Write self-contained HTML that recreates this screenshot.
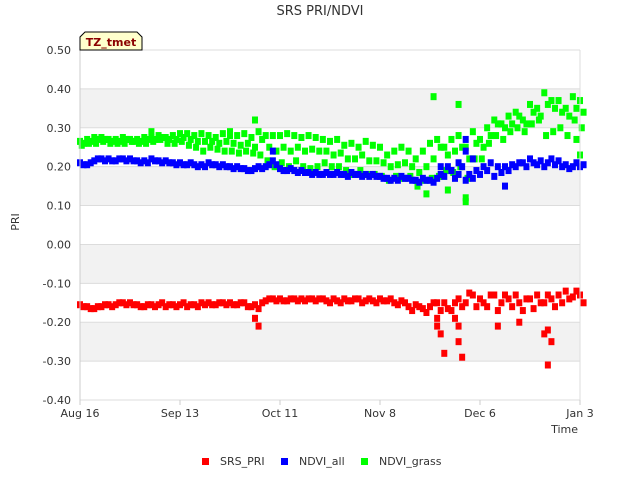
<!DOCTYPE html>
<html><head><meta charset="utf-8"><style>
body{margin:0;background:#fff;font-family:"Liberation Sans","DejaVu Sans",sans-serif;}
svg text{font-family:"DejaVu Sans","Liberation Sans",sans-serif;}
</style></head><body>
<svg id="chart" width="640" height="480" xmlns="http://www.w3.org/2000/svg">
<rect width="640" height="480" fill="#fff"/>
<text x="320" y="15" text-anchor="middle" font-size="13" fill="#333">SRS PRI/NDVI</text>
<g id="bands"></g><g id="grid"></g><g id="marks"></g><g id="axes"></g>
<text x="19" y="222" font-size="11" fill="#333" text-anchor="middle" transform="rotate(-90 19 222)">PRI</text>
<text x="578" y="433" font-size="11" fill="#333" text-anchor="end">Time</text>
<g>
<path d="M80,50 L80,37 L85,32 L137,32 L142,37 L142,50 Z" fill="#ffffcc" stroke="#000" stroke-width="1"/>
<text x="111" y="46" text-anchor="middle" font-size="11" font-weight="bold" fill="#8b0000">TZ_tmet</text>
</g>
<g font-size="11" fill="#333">
<g><rect x="202" y="458" width="7" height="7" fill="#ff0000"/><text x="220" y="465">SRS_PRI</text></g>
<g><rect x="281" y="458" width="7" height="7" fill="#0000ff"/><text x="299" y="465">NDVI_all</text></g>
<g><rect x="361" y="458" width="7" height="7" fill="#00ff00"/><text x="379" y="465">NDVI_grass</text></g>
</g>
</svg>
<script>
const xTickLabels=["Aug 16","Sep 13","Oct 11","Nov 8","Dec 6","Jan 3"];
const xTickDays=[0,28,56,84,112,140];
const yTicks=[0.5,0.4,0.3,0.2,0.1,0,-0.1,-0.2,-0.3,-0.4];
const yTickLabels=["0.50","0.40","0.30","0.20","0.10","0.00","-0.10","-0.20","-0.30","-0.40"];
const priVals=[-0.155,-0.16,-0.165,-0.16,-0.155,-0.155,-0.15,-0.15,-0.155,-0.16,-0.155,-0.155,-0.16,
-0.155,-0.155,-0.16,-0.155,-0.15,-0.15,-0.155,-0.15,-0.15,-0.155,-0.15,-0.16,-0.165,
-0.145,-0.14,-0.14,-0.145,-0.14,-0.14,-0.14,-0.145,-0.14,-0.15,-0.145,-0.14,-0.145,-0.14,-0.145,
-0.145,-0.14,-0.145,-0.15,-0.145,-0.16,-0.155,-0.165,-0.16,-0.15,
-0.15,-0.17,-0.14,-0.15,-0.13,-0.14,-0.16,-0.13,-0.15,-0.14,
-0.13,-0.17,-0.14,-0.13,-0.15,-0.14,-0.13,-0.12,-0.135,-0.13];
const priVals2=[-0.16,-0.165,-0.16,-0.155,-0.16,-0.15,-0.155,-0.155,-0.16,-0.155,-0.16,-0.15,-0.155,
-0.16,-0.15,-0.155,-0.16,-0.155,-0.155,-0.15,-0.155,-0.155,-0.15,-0.16,-0.155,-0.15,
-0.14,-0.145,-0.145,-0.14,-0.145,-0.145,-0.14,-0.14,-0.145,-0.14,-0.15,-0.145,-0.14,-0.15,-0.14,
-0.15,-0.145,-0.14,-0.155,-0.15,-0.17,-0.16,-0.175,-0.15,-0.17,
-0.165,-0.15,-0.16,-0.125,-0.16,-0.15,-0.13,-0.17,-0.13,-0.16,
-0.15,-0.14,-0.165,-0.15,-0.13,-0.16,-0.15,-0.14,-0.12,-0.15];
const priOutDays=[49,50,100,101,102,100,106,106,107,105,117,123,130,131,132,131];
const priOutVals=[-0.19,-0.21,-0.21,-0.23,-0.28,-0.19,-0.21,-0.25,-0.29,-0.19,-0.21,-0.2,-0.23,-0.31,-0.25,-0.22];
const ndviVals=[0.21,0.205,0.215,0.22,0.22,0.215,0.22,0.22,0.215,0.215,0.22,0.215,0.215,
0.21,0.21,0.205,0.205,0.205,0.21,0.205,0.205,0.2,0.2,0.195,0.19,0.2,0.2,0.215,
0.195,0.19,0.19,0.19,0.185,0.185,0.18,0.18,0.185,0.18,0.185,0.18,0.18,0.18,0.175,
0.17,0.17,0.175,0.17,0.165,0.17,0.165,0.17,0.175,0.19,0.18,0.165,0.17,
0.18,0.19,0.175,0.185,0.19,0.2,0.21,0.22,0.205,0.2,0.22,0.215,0.205,0.2,0.2];
const ndviVals2=[0.205,0.21,0.22,0.215,0.215,0.22,0.215,0.215,0.21,0.21,0.215,0.21,0.21,
0.205,0.205,0.21,0.2,0.2,0.205,0.2,0.2,0.195,0.195,0.19,0.195,0.195,0.205,0.205,
0.19,0.195,0.185,0.185,0.18,0.18,0.185,0.18,0.18,0.175,0.18,0.175,0.175,0.175,0.17,
0.165,0.165,0.17,0.165,0.16,0.165,0.16,0.18,0.2,0.17,0.2,0.18,0.19,
0.2,0.21,0.2,0.2,0.205,0.21,0.2,0.21,0.215,0.21,0.205,0.2,0.195,0.21,0.205];
const ndviOutDays=[54,101,106,108,108,110,104,119];
const ndviOutVals=[0.24,0.2,0.21,0.27,0.24,0.22,0.19,0.15];
const grassHigh=[0.265,0.27,0.275,0.275,0.27,0.27,0.275,0.27,0.27,0.275,0.275,0.28,0.275,
0.28,0.285,0.285,0.28,0.285,0.28,0.275,0.285,0.28,0.28,0.285,0.275,0.29,0.28,0.28,
0.28,0.285,0.28,0.275,0.28,0.275,0.27,0.265,0.27,0.255,0.26,0.25,0.265,0.255,0.25,
0.23,0.24,0.25,0.24,0.22,0.24,0.26,0.27,0.25,0.27,0.28,0.25,0.29,
0.27,0.3,0.32,0.31,0.33,0.34,0.32,0.36,0.35,0.39,0.37,0.37,0.35,0.38,0.37];
const grassMid=[0.26,0.265,0.27,0.27,0.265,0.265,0.27,0.265,0.265,0.27,0.27,0.275,0.27,
0.27,0.275,0.27,0.265,0.265,0.265,0.26,0.265,0.26,0.255,0.26,0.25,0.27,0.25,0.24,
0.25,0.24,0.25,0.24,0.245,0.24,0.24,0.23,0.235,0.22,0.22,0.23,0.215,0.215,0.21,
0.2,0.205,0.21,0.2,0.185,0.2,0.22,0.25,0.23,0.24,0.25,0.22,0.26,
0.25,0.28,0.31,0.3,0.31,0.33,0.31,0.34,0.33,0.36,0.35,0.34,0.33,0.35,0.34];
const grassLow=[0.255,0.26,0.26,0.265,0.26,0.26,0.26,0.265,0.26,0.26,0.265,0.27,0.26,
0.26,0.265,0.255,0.25,0.24,0.25,0.245,0.24,0.24,0.235,0.24,0.235,0.23,0.215,0.2,
0.21,0.2,0.215,0.2,0.195,0.2,0.21,0.2,0.2,0.19,0.18,0.19,0.18,0.18,0.175,
0.165,0.175,0.17,0.175,0.15,0.165,0.17,0.175,0.19,0.185,0.2,0.17,0.22,
0.22,0.26,0.28,0.27,0.29,0.3,0.29,0.31,0.32,0.28,0.29,0.3,0.28,0.32,0.3];
const grassOutDays=[20,42,49,99,106,108,108,97,103,140,139];
const grassOutVals=[0.29,0.29,0.32,0.38,0.36,0.11,0.12,0.13,0.14,0.23,0.27];

const NS="http://www.w3.org/2000/svg";
const L=80,R=580,T=50,B=400,DMAX=140;
const xs=d=>L+(d/DMAX)*(R-L);
const ys=v=>T+(0.5-v)/0.9*(B-T);
function mk(tag,attrs,parent){const e=document.createElementNS(NS,tag);for(const k in attrs)e.setAttribute(k,attrs[k]);parent.appendChild(e);return e;}
const bands=document.getElementById('bands'),grid=document.getElementById('grid'),marks=document.getElementById('marks'),axes=document.getElementById('axes');
[[0.4,0.3],[0.2,0.1],[0,-0.1],[-0.2,-0.3]].forEach(b=>{
const r=mk('rect',{x:L,y:ys(b[0]),width:R-L,height:ys(b[1])-ys(b[0]),fill:'#f2f2f2'},bands);


});
yTicks.forEach((v,i)=>{
const ln=mk('line',{x1:L,x2:R,y1:ys(v),y2:ys(v),stroke:'#dcdcdc','stroke-width':1},grid);


const t=mk('text',{x:71,y:ys(v)+4,'text-anchor':'end','font-size':11,fill:'#333'},axes);
t.textContent=yTickLabels[i];


});
const ax=mk('line',{x1:L,x2:L,y1:T,y2:B,stroke:'#ccc'},axes);


const rx=mk('line',{x1:R,x2:R,y1:T,y2:B,stroke:'#ddd'},axes);


xTickDays.forEach((d,i)=>{
const tk=mk('line',{x1:xs(d),x2:xs(d),y1:B,y2:B+5,stroke:'#ccc'},axes);


const t=mk('text',{x:xs(d),y:B+17,'text-anchor':'middle','font-size':11,fill:'#333'},axes);
t.textContent=xTickLabels[i];


});
function pt(d,v,c,name){
const r=mk('rect',{x:xs(d)-3,y:ys(v)-3.5,width:6,height:7,fill:c},marks);


}
function series(vals,c,name,off){vals.forEach((v,i)=>pt(i*2+off,v,c,name));}
series(grassHigh,'#00ff00','ndvi-grass-point',0);
series(grassMid,'#00ff00','ndvi-grass-point',1);
series(grassLow,'#00ff00','ndvi-grass-point',0.5);
grassOutDays.forEach((d,i)=>pt(d,grassOutVals[i],'#00ff00','ndvi-grass-point'));
series(ndviVals,'#0000ff','ndvi-all-point',0);
series(ndviVals2,'#0000ff','ndvi-all-point',1);
ndviOutDays.forEach((d,i)=>pt(d,ndviOutVals[i],'#0000ff','ndvi-all-point'));
series(priVals,'#ff0000','srs-pri-point',0);
series(priVals2,'#ff0000','srs-pri-point',1);
priOutDays.forEach((d,i)=>pt(d,priOutVals[i],'#ff0000','srs-pri-point'));
</script>
</body></html>
